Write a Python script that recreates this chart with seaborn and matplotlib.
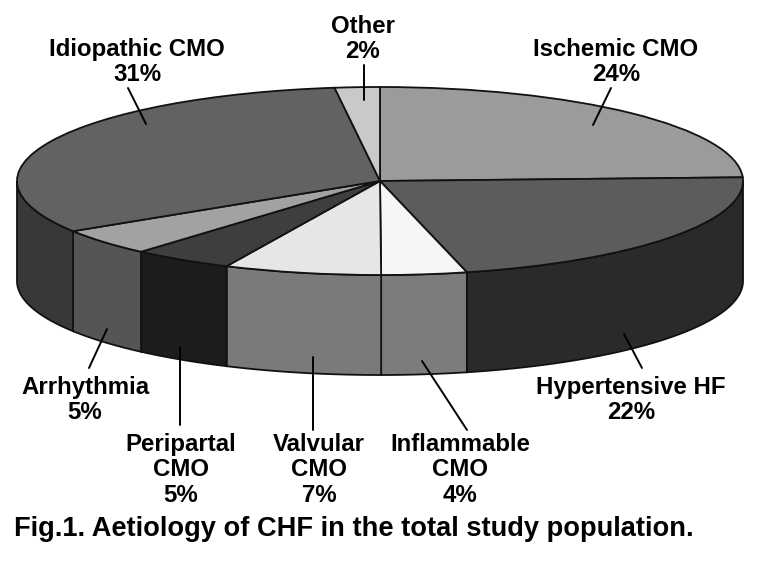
import matplotlib
matplotlib.use("Agg")
import matplotlib.pyplot as plt
import numpy as np
import seaborn as sns
from matplotlib.transforms import Affine2D

# Slice sizes, clockwise from 12 o'clock
categories = ["Ischemic CMO", "Hypertensive HF", "Inflammable CMO", "Valvular CMO",
              "Peripartal CMO", "Arrhythmia", "Idiopathic CMO", "Other"]
shares = [24.4, 21.8, 3.8, 7.0, 4.5, 4.6, 32.0, 2.0]
percent_labels = ["24%", "22%", "4%", "7%", "5%", "5%", "31%", "2%"]
label_names = ["Ischemic CMO", "Hypertensive HF", "Inflammable\nCMO", "Valvular\nCMO",
               "Peripartal\nCMO", "Arrhythmia", "Idiopathic CMO", "Other"]

top_colors = ["#9b9b9b", "#5c5c5c", "#f6f6f6", "#e6e6e6",
              "#3e3e3e", "#a2a2a2", "#626262", "#c9c9c9"]
wall_colors = ["#9b9b9b", "#2a2a2a", "#7c7c7c", "#7a7a7a",
               "#1c1c1c", "#555555", "#383838", "#c9c9c9"]

# layout, in reference pixels
W, H = 761, 563
cx, cy, rx, ry, depth = 380, 181, 363, 94, 100
label_xy = [(616, 62), (631, 400), (460, 470), (319, 470),
            (181, 470), (85, 400), (137, 62), (363, 39)]
leaders = [((611, 88), (593, 125)), ((642, 368), (624, 334)), ((467, 430), (422, 361)),
           ((313, 430), (313, 357)), ((180, 425), (180, 347)), ((89, 368), (107, 329)),
           ((128, 88), (146, 124)), ((364, 65), (364, 100))]
caption = "Fig.1. Aetiology of CHF in the total study population."

sns.set_theme(style="white")
plt.rcParams["font.family"] = ["Liberation Sans", "DejaVu Sans"]

fig = plt.figure(figsize=(W / 100, H / 100), dpi=100)
ax = fig.add_axes([0, 0, 1, 1])

wedges, _ = ax.pie(shares, startangle=90, counterclock=False, colors=top_colors,
                   wedgeprops={"edgecolor": "#111111", "linewidth": 1.3, "zorder": 3})
ax.set_aspect("auto")
# unit circle -> flattened ellipse on the figure
ax.set_xlim(-cx / rx, (W - cx) / rx)
ax.set_ylim((cy - H) / ry, cy / ry)
h = depth / ry

# side wall: only the front half of the disc is visible
for wedge, color in zip(wedges, wall_colors):
    a0 = wedge.theta1 % 360
    a1 = a0 + (wedge.theta2 - wedge.theta1)
    start, end = max(a0, 180), min(a1, 360)
    if a0 >= 360:
        continue
    if end <= start:
        continue
    t = np.radians(np.linspace(start, end, 80))
    xs = np.r_[np.cos(t), np.cos(t)[::-1]]
    ys = np.r_[np.sin(t), np.sin(t)[::-1] - h]
    ax.fill(xs, ys, facecolor=color, edgecolor="#111111", linewidth=1.3, zorder=2)

# anything addressed in reference pixels
px = Affine2D().scale(1 / W, -1 / H).translate(0, 1) + fig.transFigure

for (p0, p1) in leaders:
    ax.plot([p0[0], p1[0]], [p0[1], p1[1]], color="black", linewidth=1.4,
            transform=px, zorder=5, clip_on=False)

for name, pct, (x, y) in zip(label_names, percent_labels, label_xy):
    ax.text(x, y, name + "\n" + pct, transform=px, ha="center", va="center", ma="center",
            fontsize=17.3, fontweight="bold", color="black", linespacing=1.12, zorder=6)

ax.text(14, 529, caption, transform=px, ha="left", va="center",
        fontsize=19.6, fontweight="bold", color="black", zorder=6)

fig.savefig("out.png", dpi=100, facecolor="white")
